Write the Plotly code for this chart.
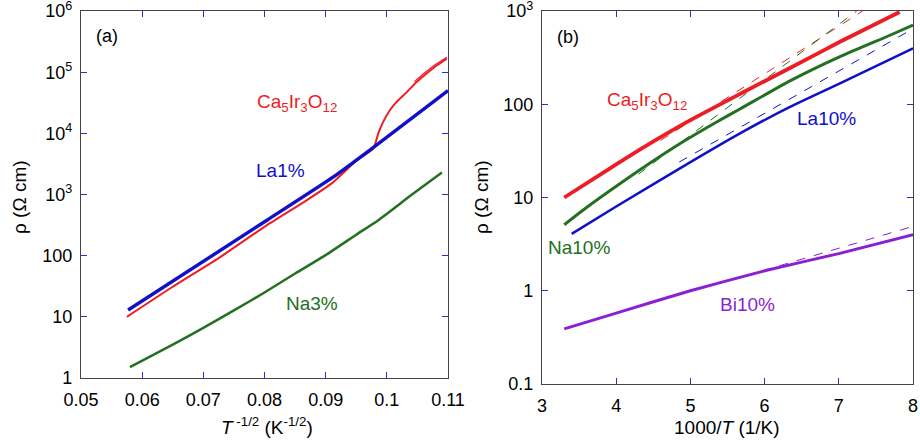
import plotly.graph_objects as go

# ---------- Panel (a): rho vs T^-1/2 ----------
a_la1_x = [0.0577, 0.0804, 0.0912, 0.0976, 0.11]
a_la1_y = [12.9, 380, 1920, 5700, 50000]

a_ca_x = [0.0575, 0.065, 0.0725, 0.0804, 0.0865, 0.0912, 0.095, 0.0978, 0.0986, 0.0994, 0.1005,
          0.1016, 0.1033, 0.1049, 0.1065, 0.1082, 0.1098]
a_ca_y = [10, 31, 91, 316, 760, 1580, 3550, 5660, 9960, 15400, 23900,
          32700, 47700, 69500, 95300, 130000, 167000]
a_ca2_x = [0.1045, 0.1062, 0.1080, 0.1098]
a_ca2_y = [70000, 98000, 135000, 176000]

a_na3_x = [0.058, 0.065, 0.07, 0.075, 0.08, 0.085, 0.09, 0.095, 0.0986, 0.104, 0.109]
a_na3_y = [1.5, 3.5, 6.6, 12.7, 25, 51, 102, 220, 380, 980, 2300]

# ---------- Panel (b): rho vs 1000/T ----------
b_ca_x = [3.3, 3.88, 4.456, 5.0, 5.668, 6.342, 7.016, 7.82]
b_ca_y = [10, 19.7, 38, 67.6, 129, 245, 468, 977]
b_ca_fit_x = [4.6, 7.32]
b_ca_fit_y = [41, 1000]

b_na_x = [3.3, 3.6, 4.0, 4.456, 4.905, 5.354, 5.668, 6.342, 7.016, 7.69, 8.0]
b_na_y = [5.1, 7.8, 13.2, 23.4, 39.8, 64.6, 89, 178, 324, 550, 708]
b_na_fit_x = [4.3, 7.24]
b_na_fit_y = [17.8, 1000]

b_la_x = [3.4, 4.0, 5.04, 5.668, 6.342, 7.016, 8.0]
b_la_y = [4.07, 8.0, 25, 48.7, 94, 168, 398]
b_la_fit_x = [4.85, 8.0]
b_la_fit_y = [24, 646]

b_bi_x = [3.3, 4.0, 5.0, 6.03, 7.0, 8.0]
b_bi_y = [0.39, 0.575, 1.0, 1.66, 2.5, 4.0]
b_bi_fit_x = [5.5, 8.0]
b_bi_fit_y = [1.27, 4.9]

a_xticks = [0.05, 0.06, 0.07, 0.08, 0.09, 0.10, 0.11]
a_xticktext = ["0.05", "0.06", "0.07", "0.08", "0.09", "0.1", "0.11"]
a_yticks = [1, 10, 100, 1e3, 1e4, 1e5, 1e6]
a_yticktext = ["1", "10", "100", "10<sup>3</sup>", "10<sup>4</sup>", "10<sup>5</sup>", "10<sup>6</sup>"]
b_xticks = [3, 4, 5, 6, 7, 8]
b_yticks = [0.1, 1, 10, 100, 1e3]
b_yticktext = ["0.1", "1", "10", "100", "10<sup>3</sup>"]

RED = "#ee1c24"
BLUE = "#1010c8"
GREEN = "#237020"
PURPLE = "#8a1fd4"
FONT = "Liberation Sans, Arial, Helvetica, sans-serif"

W, H = 920, 445
def px(x): return x / W
def py(y): return 1 - y / H

fig = go.Figure()

def line(x, y, color, width, xa, ya, dash="solid"):
    fig.add_trace(go.Scatter(x=x, y=y, mode="lines",
                             line=dict(color=color, width=width, dash=dash, shape="spline", smoothing=0.5),
                             xaxis=xa, yaxis=ya, showlegend=False, hoverinfo="skip"))

# panel a
line(a_na3_x, a_na3_y, GREEN, 2.5, "x", "y")
line(a_ca_x, a_ca_y, RED, 2, "x", "y")
line(a_ca2_x, a_ca2_y, RED, 1.2, "x", "y")
line(a_la1_x, a_la1_y, BLUE, 3.4, "x", "y")

# panel b fits
line(b_ca_fit_x, b_ca_fit_y, RED, 1, "x2", "y2", "dash")
line(b_na_fit_x, b_na_fit_y, GREEN, 1, "x2", "y2", "dash")
line(b_la_fit_x, b_la_fit_y, BLUE, 1, "x2", "y2", "dash")
line(b_bi_fit_x, b_bi_fit_y, PURPLE, 1, "x2", "y2", "dash")
# panel b data
line(b_ca_x, b_ca_y, RED, 3.8, "x2", "y2")
line(b_na_x, b_na_y, GREEN, 3, "x2", "y2")
line(b_la_x, b_la_y, BLUE, 2.5, "x2", "y2")
line(b_bi_x, b_bi_y, PURPLE, 3, "x2", "y2")

axis_common = dict(showline=True, linecolor="#444444", linewidth=1.2, mirror="ticks",
                   ticks="inside", ticklen=6, tickcolor="#2a2ad8", tickwidth=1.2,
                   showgrid=False, zeroline=False, automargin=False, ticklabeloverflow="allow",
                   tickfont=dict(family=FONT, size=18, color="black"))

fig.update_layout(
    width=W, height=H,
    margin=dict(l=0, r=0, t=0, b=0),
    paper_bgcolor="white", plot_bgcolor="white",
    xaxis=dict(domain=[px(81), px(448)], range=[0.05, 0.11], tickvals=a_xticks, ticktext=a_xticktext,
               anchor="y", ticklabelstandoff=5, **axis_common),
    yaxis=dict(domain=[py(378), py(11)], type="log", range=[-0.0005, 6.0005], tickvals=a_yticks, ticktext=a_yticktext,
               anchor="x", ticklabelstandoff=4, **axis_common),
    xaxis2=dict(domain=[px(542), px(913)], range=[3, 8], tickvals=b_xticks,
                anchor="y2", ticklabelstandoff=5, **axis_common),
    yaxis2=dict(domain=[py(384), py(11)], type="log", range=[-1.0005, 3.0005], tickvals=b_yticks, ticktext=b_yticktext,
                anchor="x2", ticklabelstandoff=4, **axis_common),
)

def ann(text, x, y, color, size=19, xref="paper", yref="paper", angle=0):
    fig.add_annotation(text=text, x=x, y=y, xref=xref, yref=yref, showarrow=False,
                       font=dict(family=FONT, size=size, color=color), textangle=angle,
                       xanchor="center", yanchor="middle")

# panel a labels
ann("(a)", px(107), py(36), "black", size=18)
ann("Ca<sub>5</sub>Ir<sub>3</sub>O<sub>12</sub>", px(297), py(103), RED)
ann("La1%", px(280), py(170), BLUE)
ann("Na3%", px(312), py(303), GREEN)
# panel b labels
ann("(b)", px(568), py(37), "black", size=18)
ann("Ca<sub>5</sub>Ir<sub>3</sub>O<sub>12</sub>", px(647), py(101), RED)
ann("La10%", px(826), py(118), BLUE)
ann("Na10%", px(579), py(247), GREEN)
ann("Bi10%", px(747), py(304), PURPLE)

# axis titles
ann("ρ (Ω cm)", px(20), py(197), "black", size=19, angle=-90)
ann("ρ (Ω cm)", px(482), py(197), "black", size=19, angle=-90)
ann("<i>T</i><sup> -1/2</sup> (K<sup>-1/2</sup>)", px(267), py(426), "black", size=19)
ann("1000/<i>T</i> (1/K)", px(727), py(427), "black", size=19)

fig.write_html("out.html", config={"displayModeBar": False},
               post_script="document.body.style.margin='0';document.body.style.padding='0';")
